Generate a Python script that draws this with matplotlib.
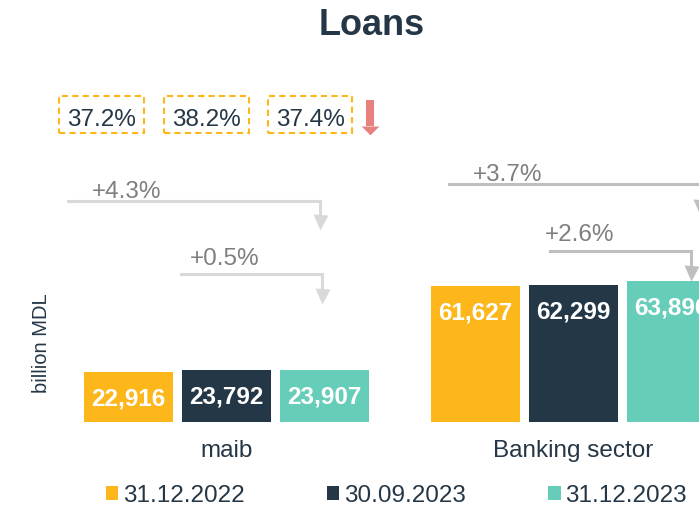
"""Loans: maib vs banking sector, three reporting dates."""
import numpy as np
import matplotlib
matplotlib.use("Agg")
import matplotlib.pyplot as plt

plt.rcParams["font.family"] = ["Liberation Sans", "DejaVu Sans"]

# data (billion MDL)
categories = ["maib", "Banking sector"]
dates = ["31.12.2022", "30.09.2023", "31.12.2023"]
loans_dec22 = [22916, 61627]
loans_sep23 = [23792, 62299]
loans_dec23 = [23907, 63896]
maib_share = [37.2, 38.2, 37.4]          # maib share of sector loans
growth_year = [4.3, 3.7]                 # 31.12.2023 vs 31.12.2022
growth_quarter = [0.5, 2.6]              # 31.12.2023 vs 30.09.2023

colors = ["#FDB71A", "#243746", "#66CDB9"]
DARK = "#253746"
GRAY_TXT = "#7F7F7F"
line_grays = ["#D9D9D9", "#BFBFBF"]
FS = 17.5

fig = plt.figure(figsize=(6.99, 5.06), dpi=100)
ax = fig.add_axes([0, 0, 1, 1])
ax.set_xlim(-2.312, 4.82)
ax.set_ylim(-37470, 191800)
ax.axis("off")

group_x = np.array([0.0, 3.54])
width = 0.908
series = [loans_dec22, loans_sep23, loans_dec23]
for i, (vals, c, lab) in enumerate(zip(series, colors, dates)):
    xs = group_x + (i - 1)
    ax.bar(xs, vals, width=width, color=c, label=lab, edgecolor="none")
    for x, v in zip(xs, vals):
        ax.text(x, v - 11800, f"{v:,}", ha="center", va="center",
                color="white", fontsize=FS, fontweight="bold")

for x, name in zip(group_x, categories):
    ax.text(x, -15270, name, ha="center", va="baseline", color=DARK, fontsize=FS)

ax.text(-1.884, 36400, "billion MDL", rotation=90, ha="center", va="center",
        color=DARK, fontsize=14.5)

# share boxes above maib bars
box_x = [-1.274, -0.202, 0.851]
box_w, box_h, box_y = 0.867, 16765, 139420
for x, s in zip(box_x, maib_share):
    ax.add_patch(plt.Rectangle((x - box_w / 2, box_y - box_h / 2), box_w, box_h,
                               fill=False, edgecolor="#FDB71A", lw=1.5,
                               linestyle=(0, (3, 2))))
    ax.text(x, 134710, f"{s:.1f}%", ha="center", va="baseline",
            color=DARK, fontsize=FS)

# red down arrow (share decreased)
ax.plot([1.468, 1.468], [146170, 134120], color="#E88080", lw=5.8,
        solid_capstyle="butt")
ax.plot(1.468, 134120, marker=[(-1, 0), (1, 0), (0, -1)], ms=12.7,
        color="#E88080", mec="none")

# growth elbow arrows: (text, text left, text baseline, line start, line y, end x, head mid y)
arrows = [
    (f"+{growth_year[0]}%", -1.377, 102220, -1.618, 100410, 0.951, 90600, line_grays[0]),
    (f"+{growth_quarter[0]}%", -0.373, 71620, -0.465, 67190, 0.975, 57230, line_grays[0]),
    (f"+{growth_year[1]}%", 2.511, 109920, 2.269, 107975, 4.834, 97780, line_grays[1]),
    (f"+{growth_quarter[1]}%", 3.249, 82740, 3.30, 77480, 4.734, 67560, line_grays[1]),
]
for txt, tx, ty, x0, yl, x1, yh, gc in arrows:
    ax.plot([x0, x1, x1], [yl, yl, yh + 3400], color=gc, lw=2.2,
            solid_joinstyle="miter")
    ax.plot(x1, yh, marker="v", ms=10.8, color=gc, mec="none")
    ax.text(tx, ty, txt, ha="left", va="baseline", color=GRAY_TXT, fontsize=FS)

fig.text(0.532, 0.9308, "Loans", ha="center", va="baseline", color=DARK,
         fontsize=26, fontweight="bold")

fig.legend(loc="center", bbox_to_anchor=(0.567, 0.019), ncol=3, frameon=False,
           fontsize=FS, handlelength=0.5, handleheight=0.5, handletextpad=0.2,
           columnspacing=3.4, borderpad=0, labelcolor=DARK)

fig.savefig("out.png", dpi=100)
